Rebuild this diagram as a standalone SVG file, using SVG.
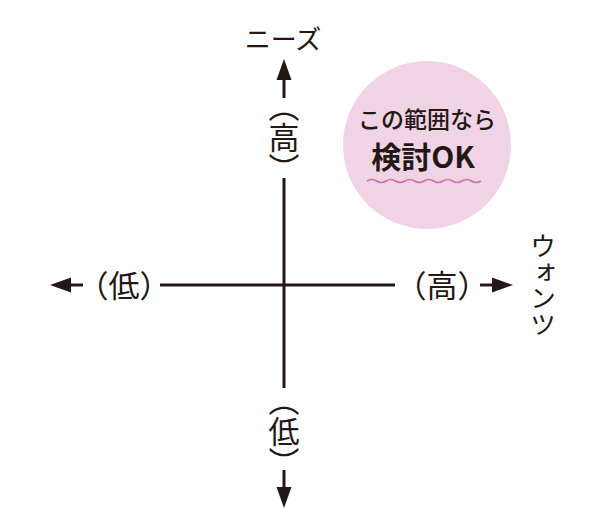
<svg xmlns="http://www.w3.org/2000/svg" width="610" height="518" viewBox="0 0 610 518">
<style>
.ax{stroke:#231815;stroke-width:3;fill:none}
.ah{fill:#231815}
.lb{font-family:"Noto Sans CJK JP","Noto Sans",sans-serif;fill:#231815;font-size:31px}
.vt{writing-mode:vertical-rl}
</style>
<rect width="610" height="518" fill="#ffffff"/>
<g id="connectors">
<line class="ax" x1="284" y1="78" x2="284" y2="98"/>
<polygon class="ah" points="284,59 276.5,80 291.5,80"/>
<line class="ax" x1="284" y1="178" x2="284" y2="388"/>
<line class="ax" x1="284" y1="470" x2="284" y2="489"/>
<polygon class="ah" points="284,508 276.5,487 291.5,487"/>
<line class="ax" x1="68" y1="285" x2="83" y2="285"/>
<polygon class="ah" points="50,285 71,277.5 71,292.5"/>
<line class="ax" x1="160" y1="285" x2="395" y2="285"/>
<line class="ax" x1="480" y1="285" x2="494" y2="285"/>
<polygon class="ah" points="513,285 492,277.5 492,292.5"/>
</g>
<g id="needs">
<text class="lb" x="283" y="49" text-anchor="middle" style="font-size:26px">ニーズ</text>
</g>
<g id="high-top">
<text class="lb vt" x="284" y="137" text-anchor="middle">（高）</text>
</g>
<g id="low-bottom">
<text class="lb vt" x="284" y="431" text-anchor="middle">（低）</text>
</g>
<g id="low-left">
<text class="lb" x="124" y="297" text-anchor="middle">（低）</text>
</g>
<g id="high-right">
<text class="lb" x="442" y="297" text-anchor="middle">（高）</text>
</g>
<g id="wants">
<text class="lb vt" x="543" y="285" text-anchor="middle" style="font-size:26px">ウォンツ</text>
</g>
<g id="ok-circle">
<circle cx="427" cy="145" r="84" fill="#f0d4e6"/>
<text class="lb" x="427" y="128" text-anchor="middle" style="font-size:23px;font-weight:500">この範囲なら</text>
<text class="lb" x="423" y="168" text-anchor="middle" style="font-size:30px;font-weight:700">検討OK</text>
<path d="M367,181 q4.75,-3 9.5,0 t9.5,0 t9.5,0 t9.5,0 t9.5,0 t9.5,0 t9.5,0 t9.5,0 t9.5,0 t9.5,0 t9.5,0 t9.5,0" fill="none" stroke="#c96fac" stroke-width="1.5"/>
</g>
</svg>
